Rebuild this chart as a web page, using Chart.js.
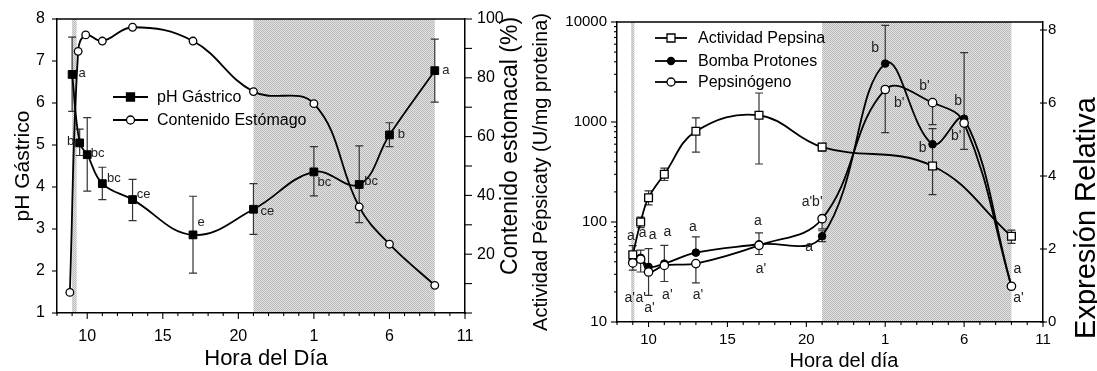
<!DOCTYPE html>
<html>
<head>
<meta charset="utf-8">
<script src="https://cdn.jsdelivr.net/npm/chart.js@4.4.1/dist/chart.umd.min.js"></script>
<style>
  html, body { margin: 0; padding: 0; background: #fff; }
  #wrap { position: relative; width: 1097px; height: 371px; overflow: hidden; }
  #phChart { position: absolute; left: 0; top: 0; }
  #pepChart { position: absolute; left: 526px; top: 0; }
</style>
</head>
<body>
<div id="wrap">
  <canvas id="phChart" width="526" height="371"></canvas>
  <canvas id="pepChart" width="571" height="371"></canvas>
</div>
<script>
/* ---------- shared axis ---------- */
const hourTicks = [10, 15, 20, 25, 30, 35];
const hourTickLabels = ['10', '15', '20', '1', '6', '11'];
const nightBands = [[9.0, 9.3], [21, 33]];
const nightBandsRight = [[8.9, 9.1], [21, 33]];

/* ---------- left panel: pH and stomach content ---------- */
const phHours = [9, 9.5, 10, 11, 13, 17, 21, 25, 28, 30, 33];
const phValues = [6.68, 5.05, 4.77, 4.08, 3.70, 2.86, 3.47, 4.36, 4.06, 5.24, 6.77];
const phLow = [5.80, 4.75, 3.90, 3.70, 3.20, 1.95, 2.87, 3.79, 3.15, 4.96, 6.02];
const phHigh = [7.57, 5.38, 5.65, 4.47, 4.18, 3.78, 4.08, 4.96, 4.98, 5.53, 7.52];
const phLetters = ['a', 'b', 'bc', 'bc', 'ce', 'e', 'ce', 'bc', 'bc', 'b', 'a'];
const phTicks = [1, 2, 3, 4, 5, 6, 7, 8];

const contHours = [8.85, 9.4, 9.9, 11, 13, 17, 21, 25, 28, 30, 33];
const contValues = [7, 89, 94.6, 92.5, 97.2, 92.5, 75.3, 71.2, 36.1, 23.4, 9.4];
const contTicks = [0, 10, 20, 30, 40, 50, 60, 70, 80, 90, 100];

/* ---------- right panel: pepsin activity and relative expression ---------- */
const pepHours = [9, 9.5, 10, 11, 13, 17, 21, 28, 33];
const pepValues = [47, 100, 175, 300, 807, 1167, 562, 363, 72];
const pepLow = [33, 88, 148, 260, 500, 380, 510, 188, 61];
const pepHigh = [58, 112, 205, 345, 1100, 1950, 610, 608, 83];
const pepTicks = [10, 20, 30, 40, 50, 60, 70, 80, 90, 100, 200, 300, 400, 500, 600, 700, 800, 900,
                  1000, 2000, 3000, 4000, 5000, 6000, 7000, 8000, 9000, 10000];

const geneHours = [9, 9.5, 10, 11, 13, 17, 21, 25, 28, 30, 33];
const bombaValues = [1.69, 1.76, 1.51, 1.60, 1.90, 2.13, 2.35, 7.08, 4.87, 5.57, 0.98];
const bombaLow = [1.69, 1.37, 1.51, 1.11, 1.90, 1.85, 2.20, 7.08, 4.87, 5.57, 0.98];
const bombaHigh = [1.69, 1.97, 1.51, 2.10, 2.33, 2.44, 2.50, 8.13, 5.30, 7.38, 0.98];
const bombaLetters = ['a', 'a', 'a', 'a', 'a', 'a', 'a', 'b', 'b', 'b', 'a'];
const pepsinogenoValues = [1.62, 1.72, 1.37, 1.55, 1.60, 2.10, 2.83, 6.37, 6.01, 5.45, 0.98];
const pepsinogenoLow = [1.62, 1.72, 0.73, 1.55, 1.07, 2.10, 2.55, 5.19, 5.41, 4.73, 0.98];
const pepsinogenoHigh = [1.62, 1.72, 2.01, 1.55, 1.60, 2.10, 2.83, 6.37, 6.01, 5.45, 0.98];
const pepsinogenoLetters = ["a'", "a'", "a'", "a'", "a'", "a'", "a'b'", "b'", "b'", "b'", "a'"];
const exprTicks = [0, 2, 4, 6, 8];

/* label placement (pixels from the point) */
const phLabelDx = [10, -9, 10.5, 11.5, 11, 8, 14, 10.5, 12, 12, 11];
const phLabelDy = [-1, -1, -1, -5, -5, -12, 2, 11, -3, 0, 0];
const bombaLabelDx = [-2, 2, 4, 3, -3, -1, -13, -10, -10, -6, 6];
const bombaLabelDy = [-24, -25, -32, -31, -26, -23, 11, -15, 4, -18, -17];
const pepsinogenoLabelDx = [-3, 0, 1, 3, 2, 2, -10, 14, -8, -8, 7];
const pepsinogenoLabelDy = [35, 39, 36, 30, 32, 24, -17, 14, -17, 13, 12];

const FONT = "'Liberation Sans', Arial, sans-serif";
const pts = (xs, ys) => xs.map((x, i) => ({ x: x, y: ys[i] }));

/* =======================
   DRAWING HELPERS
======================= */

function hatch(ctx) {
    const c = document.createElement('canvas');
    c.width = 2; c.height = 2;
    const g = c.getContext('2d');
    g.fillStyle = '#e4e4e4'; g.fillRect(0, 0, 2, 2);
    g.fillStyle = '#b8b8b8'; g.fillRect(0, 0, 1, 1); g.fillRect(1, 1, 1, 1);
    return ctx.createPattern(c, 'repeat');
}

function marker(ctx, x, y, m) {
    ctx.save();
    ctx.lineWidth = 1.3;
    ctx.strokeStyle = '#000';
    ctx.fillStyle = m.fill;
    ctx.beginPath();
    if (m.shape === 'rect') ctx.rect(x - m.size / 2, y - m.size / 2, m.size, m.size);
    else ctx.arc(x, y, m.size / 2, 0, Math.PI * 2);
    ctx.fill(); ctx.stroke();
    ctx.restore();
}

function rotatedText(ctx, text, x, y, size) {
    ctx.save();
    ctx.translate(x, y);
    ctx.rotate(-Math.PI / 2);
    ctx.font = size + 'px ' + FONT;
    ctx.textAlign = 'center';
    ctx.textBaseline = 'middle';
    ctx.fillText(text, 0, 0);
    ctx.restore();
}

const decor = {
    id: 'decor',
    beforeDraw(chart, args, o) {
        const { ctx, chartArea: a, scales } = chart;
        ctx.save();
        ctx.fillStyle = hatch(ctx);
        o.bands.forEach(([b0, b1]) => {
            const p0 = scales.x.getPixelForValue(b0), p1 = scales.x.getPixelForValue(b1);
            ctx.fillRect(p0, a.top, p1 - p0, a.bottom - a.top);
        });
        ctx.restore();
    },
    beforeDatasetsDraw(chart, args, o) {
        const { ctx, scales } = chart;
        ctx.save();
        ctx.strokeStyle = '#333';
        ctx.lineWidth = 1.2;
        o.errors.forEach(e => {
            const ys = scales[e.axis];
            e.hours.forEach((h, i) => {
                const x = scales.x.getPixelForValue(h);
                const yv = ys.getPixelForValue(e.values[i]);
                const yl = ys.getPixelForValue(e.low[i]);
                const yh = ys.getPixelForValue(e.high[i]);
                if (Math.abs(yl - yh) < 0.5) return;
                ctx.beginPath();
                ctx.moveTo(x, yl); ctx.lineTo(x, yh);
                if (Math.abs(yl - yv) > 0.5) { ctx.moveTo(x - 4, yl); ctx.lineTo(x + 4, yl); }
                if (Math.abs(yh - yv) > 0.5) { ctx.moveTo(x - 4, yh); ctx.lineTo(x + 4, yh); }
                ctx.stroke();
            });
        });
        ctx.restore();
    },
    afterDraw(chart, args, o) {
        const { ctx, chartArea: a, scales } = chart;
        ctx.save();
        // top frame line
        ctx.strokeStyle = '#000';
        ctx.lineWidth = 1.5;
        ctx.beginPath(); ctx.moveTo(a.left, a.top); ctx.lineTo(a.right, a.top); ctx.stroke();

        // tick marks
        ctx.lineWidth = 1.1;
        o.ticks.forEach(t => {
            const s = scales[t.axis];
            t.values.forEach(v => {
                const p = s.getPixelForValue(v);
                const len = t.isMajor(v) ? t.len : t.minorLen;
                ctx.beginPath();
                if (t.axis === 'x') { ctx.moveTo(p, a.bottom); ctx.lineTo(p, a.bottom + len); }
                else if (t.side === 'left') { ctx.moveTo(a.left, p); ctx.lineTo(a.left - len, p); }
                else { ctx.moveTo(a.right - (t.inner || 0), p); ctx.lineTo(a.right + len, p); }
                ctx.stroke();
            });
        });

        // significance letters
        ctx.fillStyle = '#222';
        ctx.textAlign = 'center';
        ctx.textBaseline = 'middle';
        ctx.font = o.letterSize + 'px ' + FONT;
        o.letters.forEach(l => {
            const ys = scales[l.axis];
            l.hours.forEach((h, i) => {
                const x = scales.x.getPixelForValue(h) + l.dx[i];
                const y = ys.getPixelForValue(l.values[i]) + l.dy[i];
                ctx.fillText(l.texts[i], x, y);
            });
        });

        // legend
        ctx.fillStyle = '#000';
        ctx.textAlign = 'left';
        ctx.font = '16px ' + FONT;
        o.legend.forEach(it => {
            ctx.strokeStyle = '#000';
            ctx.lineWidth = 1.8;
            ctx.beginPath(); ctx.moveTo(it.x1, it.y); ctx.lineTo(it.x2, it.y); ctx.stroke();
            marker(ctx, (it.x1 + it.x2) / 2, it.y, it.marker);
            ctx.fillStyle = '#000';
            ctx.fillText(it.text, it.tx, it.y + 1);
        });

        // axis titles
        o.titles.forEach(t => {
            if (t.rotate) rotatedText(ctx, t.text, t.x, t.y, t.size);
            else {
                ctx.font = t.size + 'px ' + FONT;
                ctx.textAlign = 'center';
                ctx.textBaseline = 'alphabetic';
                ctx.fillText(t.text, t.x, t.y);
            }
        });
        ctx.restore();
    }
};

function xAxis(height, size, pad) {
    return {
        type: 'linear', min: 8, max: 35,
        afterBuildTicks: s => { s.ticks = hourTicks.map(v => ({ value: v })); },
        afterFit: s => { s.height = height; },
        ticks: { callback: (v, i) => hourTickLabels[i], font: { family: FONT, size: size }, color: '#000',
                 padding: pad, maxRotation: 0, autoSkip: false },
        grid: { drawOnChartArea: false, tickLength: 6, tickColor: 'rgba(0,0,0,0)' },
        border: { color: '#000', width: 1.5 }
    };
}

function yAxis(extra) {
    return Object.assign({
        grid: { drawOnChartArea: false, tickLength: 6, tickColor: 'rgba(0,0,0,0)' },
        border: { color: '#000', width: 1.5 }
    }, extra);
}

const isHourMajor = v => v % 5 === 0;
const allHours = [];
for (let h = 8; h <= 35; h++) allHours.push(h);

/* =======================
   LEFT CHART
======================= */

new Chart(document.getElementById('phChart'), {
    type: 'line',
    data: {
        datasets: [{
            label: 'Contenido Estómago',
            data: pts(contHours, contValues),
            yAxisID: 'y1',
            borderColor: '#000', borderWidth: 1.8, tension: 0.4,
            pointStyle: 'circle', pointRadius: 3.8,
            pointBackgroundColor: '#fff', pointBorderColor: '#000', pointBorderWidth: 1.3
        }, {
            label: 'pH Gástrico',
            data: pts(phHours, phValues),
            yAxisID: 'y',
            borderColor: '#000', borderWidth: 1.8, tension: 0.4,
            pointStyle: 'rect', pointRadius: 5.5,
            pointBackgroundColor: '#000', pointBorderColor: '#000', pointBorderWidth: 1
        }]
    },
    options: {
        responsive: false, animation: false, events: [],
        layout: { padding: { top: 19, left: 0, right: 0, bottom: 0 } },
        scales: {
            x: xAxis(58, 16, 8),
            y: yAxis({
                type: 'linear', position: 'left', min: 1, max: 8,
                afterBuildTicks: s => { s.ticks = phTicks.map(v => ({ value: v })); },
                afterFit: s => { s.width = 57; },
                ticks: { font: { family: FONT, size: 16 }, color: '#000', padding: 6 }
            }),
            y1: yAxis({
                type: 'linear', position: 'right', min: 0, max: 100,
                afterBuildTicks: s => { s.ticks = contTicks.map(v => ({ value: v })); },
                afterFit: s => { s.width = 61; },
                ticks: { callback: v => (v > 0 && v % 20 === 0) ? String(v) : '',
                         font: { family: FONT, size: 16 }, color: '#000', padding: 6, autoSkip: false }
            })
        },
        plugins: {
            legend: { display: false }, tooltip: { enabled: false },
            decor: {
                bands: nightBands,
                errors: [{ axis: 'y', hours: phHours, values: phValues, low: phLow, high: phHigh }],
                ticks: [
                    { axis: 'x', values: allHours, isMajor: isHourMajor, len: 6, minorLen: 3 },
                    { axis: 'y', side: 'left', values: phTicks, isMajor: () => true, len: 5 },
                    { axis: 'y1', side: 'right', values: contTicks, isMajor: () => true, len: 7 }
                ],
                letterSize: 13,
                letters: [{ axis: 'y', hours: phHours, values: phValues, texts: phLetters, dx: phLabelDx, dy: phLabelDy }],
                legend: [
                    { text: 'pH Gástrico', x1: 113, x2: 148, y: 97, tx: 157,
                      marker: { shape: 'rect', size: 8, fill: '#000' } },
                    { text: 'Contenido Estómago', x1: 113, x2: 148, y: 120, tx: 157,
                      marker: { shape: 'circle', size: 8, fill: '#fff' } }
                ],
                titles: [
                    { text: 'pH Gástrico', x: 23, y: 166, size: 21, rotate: true },
                    { text: 'Contenido estomacal (%)', x: 511, y: 146, size: 23, rotate: true },
                    { text: 'Hora del Día', x: 266, y: 365, size: 22 }
                ]
            }
        }
    },
    plugins: [decor]
});

/* =======================
   RIGHT CHART
======================= */

new Chart(document.getElementById('pepChart'), {
    type: 'line',
    data: {
        datasets: [{
            label: 'Actividad Pepsina',
            data: pts(pepHours, pepValues),
            yAxisID: 'y',
            borderColor: '#000', borderWidth: 1.8, tension: 0.4,
            pointStyle: 'rect', pointRadius: 5.5,
            pointBackgroundColor: '#fff', pointBorderColor: '#000', pointBorderWidth: 1.3
        }, {
            label: 'Pepsinógeno',
            data: pts(geneHours, pepsinogenoValues),
            yAxisID: 'y1',
            borderColor: '#000', borderWidth: 1.8, tension: 0.4,
            pointStyle: 'circle', pointRadius: 4.2,
            pointBackgroundColor: '#fff', pointBorderColor: '#000', pointBorderWidth: 1.3
        }, {
            label: 'Bomba Protones',
            data: pts(geneHours, bombaValues),
            yAxisID: 'y1',
            borderColor: '#000', borderWidth: 1.8, tension: 0.4,
            pointStyle: 'circle', pointRadius: 3.8,
            pointBackgroundColor: '#000', pointBorderColor: '#000', pointBorderWidth: 1
        }]
    },
    options: {
        responsive: false, animation: false, events: [],
        layout: { padding: { top: 22, left: 0, right: 0, bottom: 0 } },
        scales: {
            x: xAxis(49, 15, 3),
            y: yAxis({
                type: 'logarithmic', position: 'left', min: 10, max: 10000,
                afterBuildTicks: s => { s.ticks = pepTicks.map(v => ({ value: v })); },
                afterFit: s => { s.width = 91; },
                ticks: { callback: v => Number.isInteger(Math.log10(v)) ? String(v) : '',
                         font: { family: FONT, size: 15 }, color: '#000', padding: 4, autoSkip: false }
            }),
            y1: yAxis({
                type: 'linear', position: 'right', min: 0, max: 8.22,
                afterBuildTicks: s => { s.ticks = exprTicks.map(v => ({ value: v })); },
                afterFit: s => { s.width = 54; },
                grid: { drawOnChartArea: false, tickLength: 4, tickColor: 'rgba(0,0,0,0)' },
                ticks: { font: { family: FONT, size: 15 }, color: '#000', padding: 1 }
            })
        },
        plugins: {
            legend: { display: false }, tooltip: { enabled: false },
            decor: {
                bands: nightBandsRight,
                errors: [
                    { axis: 'y', hours: pepHours, values: pepValues, low: pepLow, high: pepHigh },
                    { axis: 'y1', hours: geneHours, values: bombaValues, low: bombaLow, high: bombaHigh },
                    { axis: 'y1', hours: geneHours, values: pepsinogenoValues, low: pepsinogenoLow, high: pepsinogenoHigh }
                ],
                ticks: [
                    { axis: 'x', values: allHours, isMajor: isHourMajor, len: 5, minorLen: 3 },
                    { axis: 'y', side: 'left', values: pepTicks, isMajor: v => Number.isInteger(Math.log10(v)), len: 6, minorLen: 3 },
                    { axis: 'y1', side: 'right', values: exprTicks, isMajor: () => true, len: 4, inner: 3 }
                ],
                letterSize: 14,
                letters: [
                    { axis: 'y1', hours: geneHours, values: bombaValues, texts: bombaLetters, dx: bombaLabelDx, dy: bombaLabelDy },
                    { axis: 'y1', hours: geneHours, values: pepsinogenoValues, texts: pepsinogenoLetters, dx: pepsinogenoLabelDx, dy: pepsinogenoLabelDy }
                ],
                legend: [
                    { text: 'Actividad Pepsina', x1: 129, x2: 161, y: 38, tx: 172,
                      marker: { shape: 'rect', size: 8, fill: '#fff' } },
                    { text: 'Bomba Protones', x1: 129, x2: 161, y: 61, tx: 172,
                      marker: { shape: 'circle', size: 7, fill: '#000' } },
                    { text: 'Pepsinógeno', x1: 129, x2: 161, y: 82, tx: 172,
                      marker: { shape: 'circle', size: 8, fill: '#fff' } }
                ],
                titles: [
                    { text: 'Actividad Pépsicaty (U/mg proteina)', x: 15, y: 172, size: 20, rotate: true },
                    { text: 'Expresión Relativa', x: 561, y: 218, size: 29, rotate: true },
                    { text: 'Hora del día', x: 318, y: 367, size: 20 }
                ]
            }
        }
    },
    plugins: [decor]
});
</script>
</body>
</html>
